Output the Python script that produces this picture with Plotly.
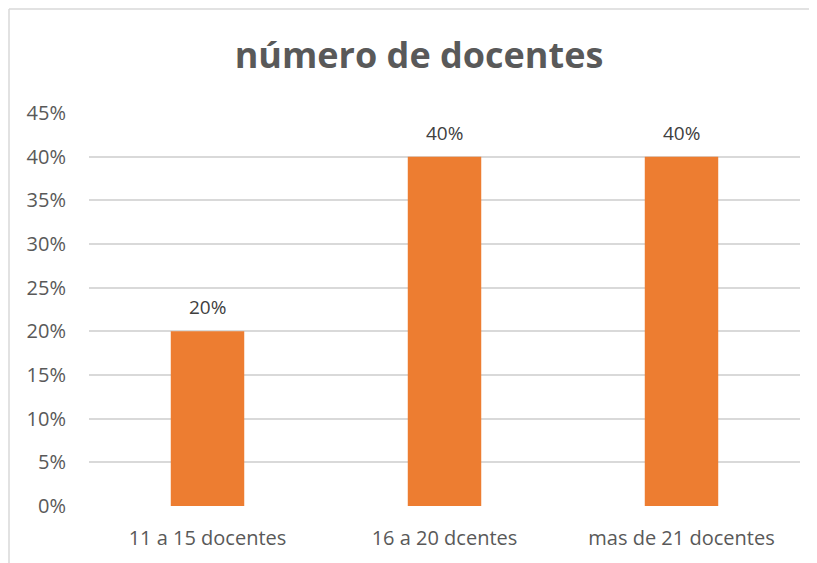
import plotly.graph_objects as go

categories = ["11 a 15 docentes", "16 a 20 dcentes", "mas de 21 docentes"]
values = [0.20, 0.40, 0.40]
tick_vals = [0, 0.05, 0.10, 0.15, 0.20, 0.25, 0.30, 0.35, 0.40, 0.45]

# page body adds an 8px offset, so the figure is 8px smaller than the window
W, H = 809, 555
font_name = "Open Sans"
L, R, T, B = 81, 17, 105, 57
pw, ph = W - L - R, H - T - B

fig = go.Figure(
    go.Bar(
        x=categories,
        y=values,
        marker=dict(color="#ED7D31", line=dict(width=0)),
        width=0.31,
        hoverinfo="skip",
    )
)

for c, v in zip(categories, values):
    fig.add_annotation(
        x=c, y=v, text=f"{v:.0%}", showarrow=False,
        yanchor="middle", yshift=24,
        font=dict(size=19, color="#404040", family=font_name),
    )

fig.update_layout(
    width=W,
    height=H,
    margin=dict(l=L, r=R, t=T, b=B),
    paper_bgcolor="white",
    plot_bgcolor="white",
    showlegend=False,
    title=dict(
        text="<b>número de docentes</b>",
        x=(419 - 8) / W,
        xanchor="center",
        y=1 - (55 - 8) / H,
        yanchor="middle",
        font=dict(size=36, color="#595959", family=font_name),
    ),
    xaxis=dict(
        showgrid=False,
        showline=False,
        ticks="",
        ticklabelstandoff=18,
        tickfont=dict(size=20, color="#595959", family=font_name),
    ),
    yaxis=dict(
        range=[0, 0.45],
        tickvals=tick_vals,
        tickformat=".0%",
        showgrid=True,
        gridcolor="#d9d9d9",
        gridwidth=1.5,
        zeroline=False,
        showline=False,
        ticks="",
        ticklabelstandoff=22,
        tickfont=dict(size=20, color="#595959", family=font_name),
    ),
    shapes=[
        # chart border (top and left visible)
        dict(type="line", xref="paper", yref="paper", x0=-(L - 1) / pw, x1=1.2, y0=1 + (T - 1) / ph, y1=1 + (T - 1) / ph,
             line=dict(color="#d9d9d9", width=1.5)),
        dict(type="line", xref="paper", yref="paper", x0=-(L - 1) / pw, x1=-(L - 1) / pw, y0=1 + (T - 1) / ph, y1=-0.3,
             line=dict(color="#d9d9d9", width=1.5)),
    ],
)

fig.write_html("out.html")
